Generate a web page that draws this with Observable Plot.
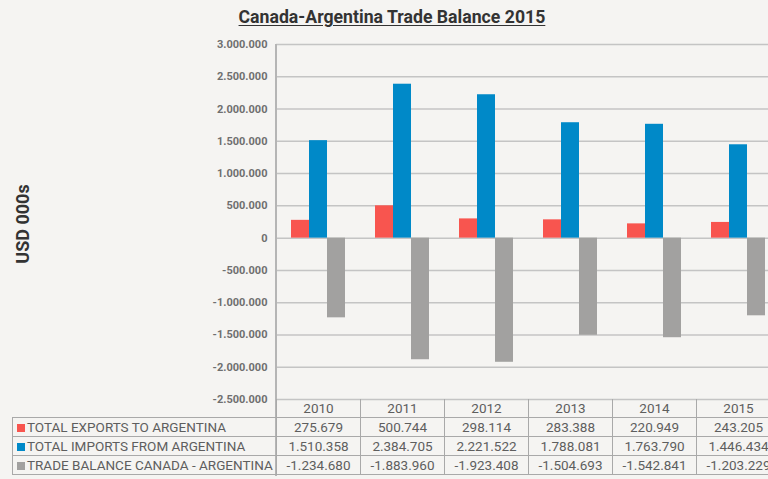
<!DOCTYPE html>
<html>
<head>
<meta charset="utf-8">
<script src="https://cdn.jsdelivr.net/npm/d3@7"></script>
<script src="https://cdn.jsdelivr.net/npm/@observablehq/plot@0.6"></script>
<style>
  html, body { margin: 0; padding: 0; overflow: hidden; background: #f5f4f2; }
  #wrap { position: relative; width: 768px; height: 479px; overflow: hidden; font-family: Roboto, sans-serif; }
  #title { position: absolute; left: 0; width: 784px; top: 5px; text-align: center; font-weight: 700; font-size: 19px; color: #333; }
  #title span { display: inline-block; text-decoration: underline; text-underline-offset: 2px; transform: scaleX(0.93); }
  #ylabel { position: absolute; left: 22px; top: 224px; transform: translate(-50%, -50%) rotate(-90deg); font-weight: 700; font-size: 18px; color: #333; white-space: nowrap; }
  #chart { position: absolute; left: 0; top: 0; width: 800px; }
  #chart svg { max-width: none !important; }
  #vline { position: absolute; width: 1.5px; background: #b5b5b5; }
  table { position: absolute; border-collapse: collapse; table-layout: fixed; font-size: 13.5px; color: #5e5e5e; }
  td { border: 1px solid #a9a9a9; padding: 0; height: 18px; text-align: center; white-space: nowrap; overflow: hidden; line-height: 18px; }
  td.lab { text-align: left; padding-left: 4px; }
  td.empty { border: none; }
  .sw { display: inline-block; width: 8px; height: 8px; margin-right: 2px; vertical-align: 0px; }
</style>
</head>
<body>
<div id="wrap">
  <div id="title"><span>Canada-Argentina Trade Balance 2015</span></div>
  <div id="ylabel">USD 000s</div>
  <div id="chart"></div>
</div>
<script>
const years = ["2010", "2011", "2012", "2013", "2014", "2015"];
const seriesNames = ["TOTAL EXPORTS TO ARGENTINA", "TOTAL IMPORTS FROM ARGENTINA", "TRADE BALANCE CANADA - ARGENTINA"];
const exportsVals = [275679, 500744, 298114, 283388, 220949, 243205];
const importsVals = [1510358, 2384705, 2221522, 1788081, 1763790, 1446434];
const balanceVals = [-1234680, -1883960, -1923408, -1504693, -1542841, -1203229];
const seriesColors = ["#f8554f", "#0089c8", "#a2a1a0"];
const yTicks = [-2500000, -2000000, -1500000, -1000000, -500000, 0, 500000, 1000000, 1500000, 2000000, 2500000, 3000000];

const seriesValues = [exportsVals, importsVals, balanceVals];
const data = [];
years.forEach((yr, i) => seriesNames.forEach((s, j) => data.push({year: yr, series: s, value: seriesValues[j][i]})));

const locale = d3.formatLocale({decimal: ",", thousands: ".", grouping: [3], currency: ["", ""], minus: "-"});
const fmt = locale.format(",d");

const chart = Plot.plot({
  width: 780,
  height: 400,
  marginLeft: 276,
  marginRight: 0,
  marginTop: 44,
  marginBottom: 1,
  style: {background: "transparent", fontFamily: "Roboto, sans-serif", overflow: "visible", maxWidth: "none"},
  fx: {domain: years, padding: 0, axis: null},
  x: {domain: seriesNames, axis: null, paddingInner: 0, paddingOuter: 0.77},
  y: {domain: [-2500000, 3000000], label: null, ticks: yTicks, tickFormat: fmt},
  color: {domain: seriesNames, range: seriesColors},
  marks: [
    Plot.ruleY(yTicks, {stroke: "#c4c4c4", strokeWidth: 1.5}),
    Plot.barY(data, {fx: "year", x: "series", y: "value", fill: "series"}),
    Plot.axisY(yTicks, {tickSize: 0, tickPadding: 9, tickFormat: fmt, fontWeight: "bold", fontSize: 11, fill: "#6f6f6f", label: null})
  ]
});
document.getElementById("chart").appendChild(chart);

const fx = chart.scale("fx");
const y = chart.scale("y");
const band = fx.bandwidth;
const x0 = 276;
const plotBottom = y.apply(-2500000);
const plotTop = y.apply(3000000);

const wrap = document.getElementById("wrap");
const vline = document.createElement("div");
vline.id = "vline";
vline.style.left = (x0 - 0.75) + "px";
vline.style.top = plotTop + "px";
vline.style.height = (476 - plotTop) + "px";
wrap.appendChild(vline);

const table = d3.select(wrap).append("table")
  .style("left", "12px")
  .style("top", (plotBottom) + "px")
  .style("width", (x0 - 12 + band * years.length) + "px");
const cg = table.append("colgroup");
cg.append("col").style("width", (x0 - 12) + "px");
years.forEach(() => cg.append("col").style("width", band + "px"));
const hr = table.append("tr");
hr.append("td").attr("class", "empty");
years.forEach(yr => hr.append("td").text(yr).style("border-top", "none"));
seriesNames.forEach((s, j) => {
  const tr = table.append("tr");
  const lab = tr.append("td").attr("class", "lab");
  lab.append("span").attr("class", "sw").style("background", seriesColors[j]);
  lab.append("span").text(s);
  seriesValues[j].forEach(v => tr.append("td").text(fmt(v)));
});
</script>
</body>
</html>
